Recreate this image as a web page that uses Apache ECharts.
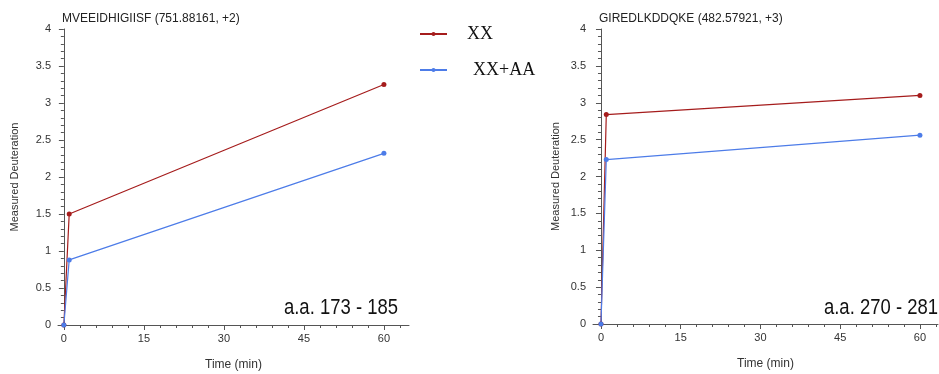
<!DOCTYPE html>
<html>
<head>
<meta charset="utf-8">
<script src="https://cdn.jsdelivr.net/npm/echarts@6/dist/echarts.min.js"></script>
<style>html,body{margin:0;padding:0;background:#fff;}#c{width:939px;height:374px;}</style>
</head>
<body>
<div id="c"></div>
<script>
// Data
const times = [0, 1, 60];
const leftXX = [0, 1.50, 3.25];
const leftXXAA = [0, 0.88, 2.32];
const rightXX = [0, 2.84, 3.10];
const rightXXAA = [0, 2.23, 2.56];
const leftTitle = 'MVEEIDHIGIISF (751.88161, +2)';
const rightTitle = 'GIREDLKDDQKE (482.57921, +3)';
const leftLabel = 'a.a. 173 - 185';
const rightLabel = 'a.a. 270 - 281';
const xMajorTicks = [0, 15, 30, 45, 60];
const xMinorTicks = [3, 6, 9, 12, 18, 21, 24, 27, 33, 36, 39, 42, 48, 51, 54, 57, 63];
const seriesNames = ['XX', 'XX+AA'];

const RED = '#a51c1c', BLUE = '#4d7ce8';
const pairs = (ys) => times.map((t, i) => [t, ys[i]]);

const chart = echarts.init(document.getElementById('c'), null, {renderer: 'canvas'});

function xAxes(gridIndex, min, max, nameGap) {
  return [{
    type: 'value', gridIndex, min, max, position: 'bottom',
    name: 'Time (min)', nameLocation: 'middle', nameGap,
    nameTextStyle: {fontFamily: 'Liberation Sans', fontSize: 12, color: '#333'},
    axisLine: {lineStyle: {color: '#555', width: 1}},
    axisTick: {show: true, length: 5, lineStyle: {color: '#555'}, customValues: xMajorTicks},
    axisLabel: {customValues: xMajorTicks, fontFamily: 'Liberation Sans', fontSize: 11, color: '#333', margin: 8},
    splitLine: {show: false}
  }, {
    type: 'value', gridIndex, min, max, position: 'bottom',
    axisLine: {show: false},
    axisTick: {show: true, length: 3, lineStyle: {color: '#555'}, customValues: xMinorTicks},
    axisLabel: {show: false},
    splitLine: {show: false}
  }];
}
function yAxis(gridIndex, nameGap) {
  return {
    type: 'value', gridIndex, min: 0, max: 4, interval: 0.5,
    name: 'Measured Deuteration', nameLocation: 'middle', nameGap,
    nameTextStyle: {fontFamily: 'Liberation Sans', fontSize: 11, color: '#333'},
    axisLine: {show: true, lineStyle: {color: '#555', width: 1}},
    axisTick: {show: true, length: 5, lineStyle: {color: '#555'}},
    minorTick: {show: true, splitNumber: 5, length: 3, lineStyle: {color: '#555'}},
    axisLabel: {fontFamily: 'Liberation Sans', fontSize: 11, color: '#333', margin: 7},
    splitLine: {show: false}
  };
}
function line(name, data, color, xAxisIndex, yAxisIndex) {
  return {
    type: 'line', name, data, xAxisIndex, yAxisIndex,
    symbol: 'circle', symbolSize: 5, showSymbol: true,
    lineStyle: {color, width: 1.2}, itemStyle: {color},
    animation: false
  };
}
function rangeLabel(text, x) {
  return {
    type: 'text', x: x, y: 308, scaleX: 0.84, originX: 0, originY: 0,
    style: {text, x: 0, y: 0, align: 'right', verticalAlign: 'middle',
      fontFamily: 'Liberation Sans', fontSize: 22, fill: '#111'}
  };
}

chart.setOption({
  animation: false,
  grid: [
    {left: 58, top: 29, width: 351, height: 296, outerBoundsMode: 'none', containLabel: false},
    {left: 593, top: 29, width: 345, height: 295, outerBoundsMode: 'none', containLabel: false}
  ],
  title: [
    {text: leftTitle, left: 57, top: 8, textStyle: {fontFamily: 'Liberation Sans', fontSize: 12, fontWeight: 'normal', color: '#222'}},
    {text: rightTitle, left: 594, top: 8, textStyle: {fontFamily: 'Liberation Sans', fontSize: 12, fontWeight: 'normal', color: '#222'}}
  ],
  legend: [
    {data: [seriesNames[0]], left: 414, top: 20, orient: 'vertical', itemWidth: 27, itemHeight: 5,
     textStyle: {fontFamily: 'Liberation Serif', fontSize: 18, color: '#111', padding: [0, 0, 0, 15]}},
    {data: [seriesNames[1]], left: 414, top: 56, orient: 'vertical', itemWidth: 27, itemHeight: 5,
     textStyle: {fontFamily: 'Liberation Serif', fontSize: 18, color: '#111', padding: [0, 0, 0, 21]}}
  ],
  xAxis: [...xAxes(0, -1.1, 64.7, 34), ...xAxes(1, -1.5, 63.4, 34)],
  yAxis: [yAxis(0, 38), yAxis(1, 32)],
  graphic: [rangeLabel(leftLabel, 398), rangeLabel(rightLabel, 938)],
  series: [
    line(seriesNames[0], pairs(leftXX), RED, 0, 0),
    line(seriesNames[1], pairs(leftXXAA), BLUE, 0, 0),
    line(seriesNames[0], pairs(rightXX), RED, 2, 1),
    line(seriesNames[1], pairs(rightXXAA), BLUE, 2, 1)
  ]
});
</script>
</body>
</html>
